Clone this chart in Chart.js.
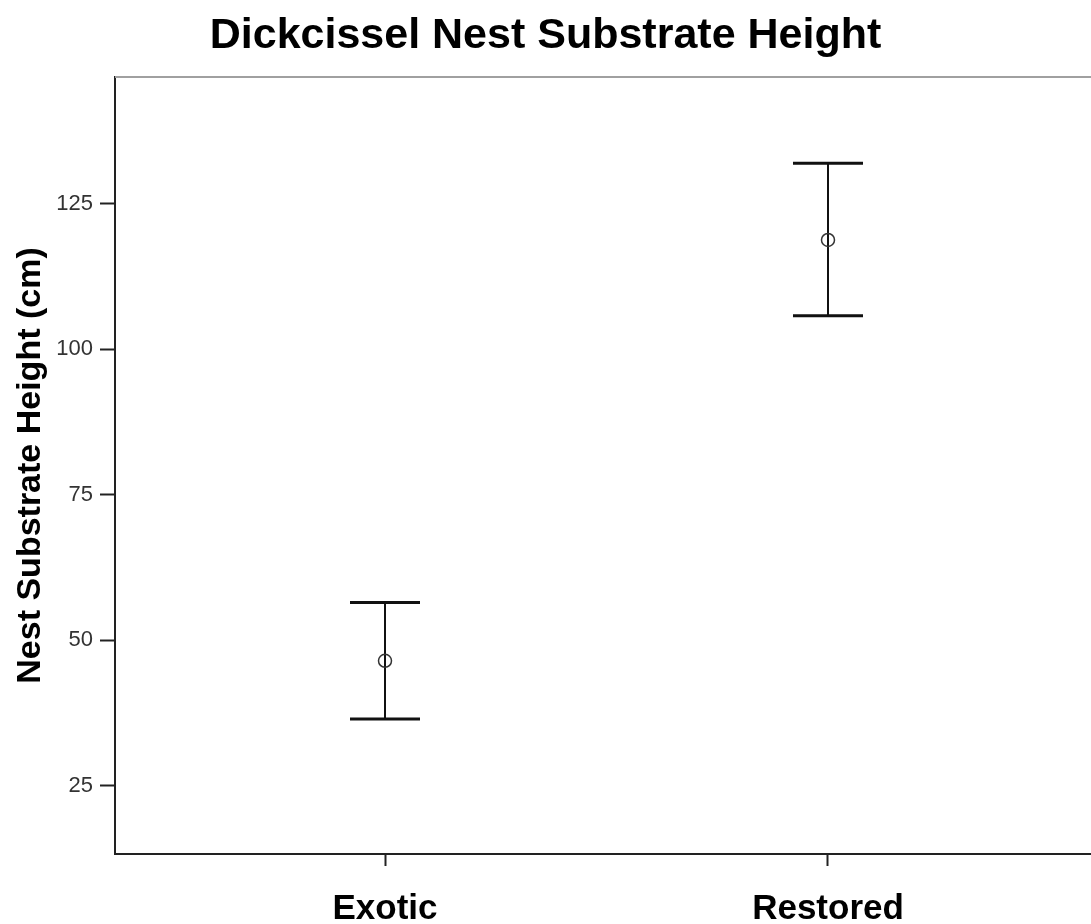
<!DOCTYPE html>
<html>
<head>
<meta charset="utf-8">
<script src="https://cdn.jsdelivr.net/npm/chart.js@4"></script>
<style>
  html, body { margin: 0; padding: 0; background: #fff; }
  #wrap { width: 1091px; height: 924px; }
</style>
</head>
<body>
<div id="wrap"><canvas id="nestChart"></canvas></div>
<script>
// data
const groups = ['Exotic', 'Restored'];
const means = [46.5, 118.8];
const upper = [56.5, 132.0];
const lower = [36.5, 105.8];
const yTicks = [25, 50, 75, 100, 125];

// error bars + the grey top frame line
const errorBars = {
  id: 'errorBars',
  beforeDatasetsDraw(chart) {
    const ctx = chart.ctx;
    const xs = chart.scales.x;
    const ys = chart.scales.y;
    const area = chart.chartArea;
    ctx.save();

    ctx.strokeStyle = '#a0a0a0';
    ctx.lineWidth = 2;
    ctx.beginPath();
    ctx.moveTo(area.left, area.top);
    ctx.lineTo(area.right, area.top);
    ctx.stroke();

    ctx.strokeStyle = '#111';
    groups.forEach((g, i) => {
      const x = xs.getPixelForValue(i);
      const yHi = ys.getPixelForValue(upper[i]);
      const yLo = ys.getPixelForValue(lower[i]);
      ctx.lineWidth = 2;
      ctx.beginPath();
      ctx.moveTo(x, yHi);
      ctx.lineTo(x, yLo);
      ctx.stroke();
      ctx.lineWidth = 3;
      ctx.beginPath();
      ctx.moveTo(x - 35, yHi);
      ctx.lineTo(x + 35, yHi);
      ctx.moveTo(x - 35, yLo);
      ctx.lineTo(x + 35, yLo);
      ctx.stroke();
    });
    ctx.restore();
  }
};

const font = 'Liberation Sans, Arial, sans-serif';

const ctx = document.getElementById('nestChart');
new Chart(ctx, {
  type: 'scatter',
  data: {
    datasets: [{
      label: 'Mean',
      data: groups.map((g, i) => ({ x: i, y: means[i] })),
      pointStyle: 'circle',
      pointRadius: 6.5,
      pointBorderWidth: 1.5,
      pointBorderColor: '#333',
      pointBackgroundColor: 'rgba(0,0,0,0)'
    }]
  },
  options: {
    responsive: true,
    maintainAspectRatio: false,
    animation: false,
    layout: { autoPadding: false, padding: 0 },
    plugins: {
      legend: { display: false },
      tooltip: { enabled: false },
      title: {
        display: true,
        text: 'Dickcissel Nest Substrate Height',
        color: '#000',
        font: { family: font, size: 43, weight: 'bold' },
        padding: { top: 10, bottom: 15.4 }
      }
    },
    scales: {
      x: {
        type: 'linear',
        min: -0.6095,
        max: 1.5937,
        afterBuildTicks: (scale) => { scale.ticks = groups.map((g, i) => ({ value: i })); },
        afterFit: (scale) => { scale.height = 70; },
        ticks: {
          callback: (v) => groups[v],
          color: '#000',
          padding: 22,
          font: { family: font, size: 35, weight: 'bold' }
        },
        grid: { drawOnChartArea: false, tickLength: 12, tickColor: '#222', tickWidth: 2 },
        border: { color: '#222', width: 2 }
      },
      y: {
        min: 13.3,
        max: 146.8,
        afterBuildTicks: (scale) => { scale.ticks = yTicks.map(v => ({ value: v })); },
        afterFit: (scale) => { scale.width = 115; },
        ticks: {
          color: '#333',
          padding: 7,
          font: { family: font, size: 22 }
        },
        grid: { drawOnChartArea: false, tickLength: 15, tickColor: '#222', tickWidth: 2 },
        border: { color: '#222', width: 2 },
        title: {
          display: true,
          text: 'Nest Substrate Height (cm)',
          color: '#000',
          padding: { top: 10, bottom: 0 },
          font: { family: font, size: 34, weight: 'bold' }
        }
      }
    }
  },
  plugins: [errorBars]
});
</script>
</body>
</html>
